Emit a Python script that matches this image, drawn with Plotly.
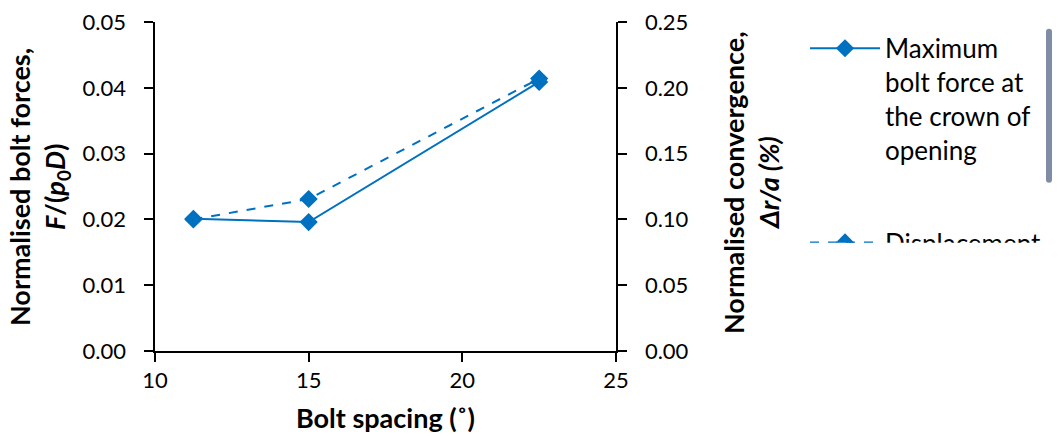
import plotly.graph_objects as go

bolt_spacing = [11.25, 15, 22.5]
max_bolt_force = [0.0201, 0.0196, 0.0409]
displacement = [0.100, 0.1155, 0.207]

FONT = "Lato"
BLUE = "#0070C0"
TITLE_SIZE = 27
GAP = "\u2002\u2009"  # extra space between tick labels and axis ticks

fig = go.Figure()
fig.add_trace(go.Scatter(
    x=bolt_spacing, y=max_bolt_force, mode="lines+markers",
    name="Maximum<br>bolt force at<br>the crown of<br>opening", legendgroup="a",
    line=dict(color=BLUE, width=2),
    marker=dict(symbol="diamond", size=14, color=BLUE),
    yaxis="y"))
fig.add_trace(go.Scatter(
    x=bolt_spacing, y=displacement, mode="lines+markers",
    name="Displacement<br>at the crown<br>of opening", legendgroup="b",
    line=dict(color=BLUE, width=2, dash="dash"),
    marker=dict(symbol="diamond", size=14, color=BLUE),
    yaxis="y2"))

axis_common = dict(showline=True, linecolor="black", linewidth=1.5,
                   ticks="outside", ticklen=9, tickwidth=1.5, tickcolor="black",
                   showgrid=False, zeroline=False,
                   tickfont=dict(family=FONT, size=22, color="black"))

title_font = dict(family=FONT, size=TITLE_SIZE, color="black")
annotations = [
    dict(text="<b>Normalised bolt forces,</b>", x=-0.2928, y=0.4985),
    dict(text="<b><i>F</i>/(<i>p</i><sub>0</sub><i>D</i>)</b>", x=-0.2126, y=0.4985),
    dict(text="<b>Normalised convergence,</b>", x=1.2538, y=0.5106),
    dict(text="<b><i>Δr/a (%)</i></b>", x=1.3297, y=0.5106),
]
for a in annotations:
    a.update(xref="paper", yref="paper", xanchor="center", yanchor="middle",
             textangle=-90, showarrow=False, font=title_font)
annotations.append(dict(text="<b>Bolt spacing (˚)</b>", x=0.5, y=-0.2036, xref="paper", yref="paper",
                        xanchor="center", yanchor="middle", showarrow=False, font=title_font))

fig.update_layout(
    width=1058, height=436,
    margin=dict(l=155, r=442, t=22, b=85, autoexpand=False),
    paper_bgcolor="white", plot_bgcolor="white",
    font=dict(family=FONT, color="black"),
    xaxis=dict(range=[10, 25], dtick=5, tick0=10, **axis_common),
    yaxis=dict(range=[0, 0.05], dtick=0.01, tickformat=".2f", ticksuffix=GAP, **axis_common),
    yaxis2=dict(range=[0, 0.25], dtick=0.05, tickformat=".2f", overlaying="y", side="right",
                tickprefix=GAP, **axis_common),
    legend=dict(x=1.41, y=0.943, yref="container", xanchor="left", yanchor="top", valign="top",
                font=dict(family=FONT, size=26, color="black"),
                itemwidth=70, tracegroupgap=56, bgcolor="rgba(0,0,0,0)"),
    annotations=annotations,
    showlegend=True,
)

fig.write_html("out.html")
